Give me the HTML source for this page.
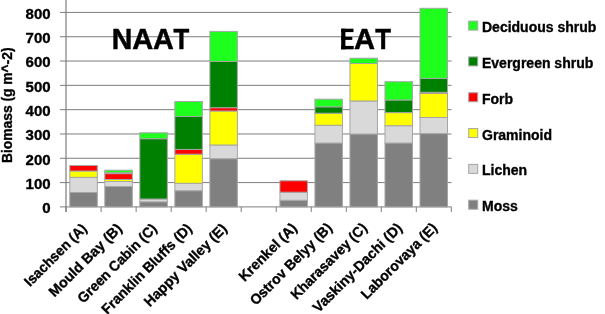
<!DOCTYPE html>
<html><head><meta charset="utf-8"><style>
html,body{margin:0;padding:0;background:#fff;width:605px;height:314px;overflow:hidden;}
svg{display:block;}
text{font-family:"Liberation Sans",sans-serif;stroke:#000;stroke-width:0.35px;}

</style></head><body>
<svg width="605" height="314" viewBox="0 0 605 314">
<defs><filter id="gs" x="-0.05" y="-0.05" width="1.1" height="1.1"><feColorMatrix type="saturate" values="0"/></filter></defs>
<line x1="60" y1="206.90" x2="451.5" y2="206.90" stroke="#7d7d7d" stroke-width="1"/>
<line x1="60" y1="182.59" x2="451.5" y2="182.59" stroke="#7d7d7d" stroke-width="1"/>
<line x1="60" y1="158.28" x2="451.5" y2="158.28" stroke="#7d7d7d" stroke-width="1"/>
<line x1="60" y1="133.97" x2="451.5" y2="133.97" stroke="#7d7d7d" stroke-width="1"/>
<line x1="60" y1="109.66" x2="451.5" y2="109.66" stroke="#7d7d7d" stroke-width="1"/>
<line x1="60" y1="85.35" x2="451.5" y2="85.35" stroke="#7d7d7d" stroke-width="1"/>
<line x1="60" y1="61.04" x2="451.5" y2="61.04" stroke="#7d7d7d" stroke-width="1"/>
<line x1="60" y1="36.73" x2="451.5" y2="36.73" stroke="#7d7d7d" stroke-width="1"/>
<line x1="60" y1="12.42" x2="451.5" y2="12.42" stroke="#7d7d7d" stroke-width="1"/>
<line x1="66" y1="0" x2="66" y2="212" stroke="#7d7d7d" stroke-width="1.2"/>
<line x1="66.10" y1="206.9" x2="66.10" y2="212" stroke="#7d7d7d" stroke-width="1"/>
<line x1="101.12" y1="206.9" x2="101.12" y2="212" stroke="#7d7d7d" stroke-width="1"/>
<line x1="136.14" y1="206.9" x2="136.14" y2="212" stroke="#7d7d7d" stroke-width="1"/>
<line x1="171.16" y1="206.9" x2="171.16" y2="212" stroke="#7d7d7d" stroke-width="1"/>
<line x1="206.18" y1="206.9" x2="206.18" y2="212" stroke="#7d7d7d" stroke-width="1"/>
<line x1="241.20" y1="206.9" x2="241.20" y2="212" stroke="#7d7d7d" stroke-width="1"/>
<line x1="276.22" y1="206.9" x2="276.22" y2="212" stroke="#7d7d7d" stroke-width="1"/>
<line x1="311.24" y1="206.9" x2="311.24" y2="212" stroke="#7d7d7d" stroke-width="1"/>
<line x1="346.26" y1="206.9" x2="346.26" y2="212" stroke="#7d7d7d" stroke-width="1"/>
<line x1="381.28" y1="206.9" x2="381.28" y2="212" stroke="#7d7d7d" stroke-width="1"/>
<line x1="416.30" y1="206.9" x2="416.30" y2="212" stroke="#7d7d7d" stroke-width="1"/>
<line x1="451.32" y1="206.9" x2="451.32" y2="212" stroke="#7d7d7d" stroke-width="1"/>
<rect x="69.80" y="192.50" width="27.5" height="14.40" fill="#808080" stroke="#a6a6a6" stroke-width="1"/>
<rect x="69.80" y="177.30" width="27.5" height="15.20" fill="#d9d9d9" stroke="#a6a6a6" stroke-width="1"/>
<rect x="69.80" y="171.00" width="27.5" height="6.30" fill="#ffff00" stroke="#a6a6a6" stroke-width="1"/>
<rect x="69.80" y="165.50" width="27.5" height="5.50" fill="#ff0000" stroke="#a6a6a6" stroke-width="1"/>
<rect x="104.82" y="186.50" width="27.5" height="20.40" fill="#808080" stroke="#a6a6a6" stroke-width="1"/>
<rect x="104.82" y="181.50" width="27.5" height="5.00" fill="#d9d9d9" stroke="#a6a6a6" stroke-width="1"/>
<rect x="104.82" y="179.50" width="27.5" height="2.00" fill="#ffff00" stroke="#a6a6a6" stroke-width="1"/>
<rect x="104.82" y="173.60" width="27.5" height="5.90" fill="#ff0000" stroke="#a6a6a6" stroke-width="1"/>
<rect x="104.82" y="172.70" width="27.5" height="0.90" fill="#008000" stroke="#a6a6a6" stroke-width="1"/>
<rect x="104.82" y="170.20" width="27.5" height="2.50" fill="#1eff1e" stroke="#a6a6a6" stroke-width="1"/>
<rect x="139.84" y="201.80" width="27.5" height="5.10" fill="#808080" stroke="#a6a6a6" stroke-width="1"/>
<rect x="139.84" y="199.00" width="27.5" height="2.80" fill="#d9d9d9" stroke="#a6a6a6" stroke-width="1"/>
<rect x="139.84" y="138.70" width="27.5" height="60.30" fill="#008000" stroke="#a6a6a6" stroke-width="1"/>
<rect x="139.84" y="132.80" width="27.5" height="5.90" fill="#1eff1e" stroke="#a6a6a6" stroke-width="1"/>
<rect x="174.86" y="190.70" width="27.5" height="16.20" fill="#808080" stroke="#a6a6a6" stroke-width="1"/>
<rect x="174.86" y="183.30" width="27.5" height="7.40" fill="#d9d9d9" stroke="#a6a6a6" stroke-width="1"/>
<rect x="174.86" y="154.20" width="27.5" height="29.10" fill="#ffff00" stroke="#a6a6a6" stroke-width="1"/>
<rect x="174.86" y="149.40" width="27.5" height="4.80" fill="#ff0000" stroke="#a6a6a6" stroke-width="1"/>
<rect x="174.86" y="116.50" width="27.5" height="32.90" fill="#008000" stroke="#a6a6a6" stroke-width="1"/>
<rect x="174.86" y="101.50" width="27.5" height="15.00" fill="#1eff1e" stroke="#a6a6a6" stroke-width="1"/>
<rect x="209.88" y="158.70" width="27.5" height="48.20" fill="#808080" stroke="#a6a6a6" stroke-width="1"/>
<rect x="209.88" y="145.00" width="27.5" height="13.70" fill="#d9d9d9" stroke="#a6a6a6" stroke-width="1"/>
<rect x="209.88" y="111.00" width="27.5" height="34.00" fill="#ffff00" stroke="#a6a6a6" stroke-width="1"/>
<rect x="209.88" y="107.70" width="27.5" height="3.30" fill="#ff0000" stroke="#a6a6a6" stroke-width="1"/>
<rect x="209.88" y="61.50" width="27.5" height="46.20" fill="#008000" stroke="#a6a6a6" stroke-width="1"/>
<rect x="209.88" y="31.40" width="27.5" height="30.10" fill="#1eff1e" stroke="#a6a6a6" stroke-width="1"/>
<rect x="279.92" y="200.30" width="27.5" height="6.60" fill="#808080" stroke="#a6a6a6" stroke-width="1"/>
<rect x="279.92" y="192.20" width="27.5" height="8.10" fill="#d9d9d9" stroke="#a6a6a6" stroke-width="1"/>
<rect x="279.92" y="180.80" width="27.5" height="11.40" fill="#ff0000" stroke="#a6a6a6" stroke-width="1"/>
<rect x="314.94" y="143.00" width="27.5" height="63.90" fill="#808080" stroke="#a6a6a6" stroke-width="1"/>
<rect x="314.94" y="125.30" width="27.5" height="17.70" fill="#d9d9d9" stroke="#a6a6a6" stroke-width="1"/>
<rect x="314.94" y="113.20" width="27.5" height="12.10" fill="#ffff00" stroke="#a6a6a6" stroke-width="1"/>
<rect x="314.94" y="106.80" width="27.5" height="6.40" fill="#008000" stroke="#a6a6a6" stroke-width="1"/>
<rect x="314.94" y="99.20" width="27.5" height="7.60" fill="#1eff1e" stroke="#a6a6a6" stroke-width="1"/>
<rect x="349.96" y="134.00" width="27.5" height="72.90" fill="#808080" stroke="#a6a6a6" stroke-width="1"/>
<rect x="349.96" y="101.00" width="27.5" height="33.00" fill="#d9d9d9" stroke="#a6a6a6" stroke-width="1"/>
<rect x="349.96" y="63.50" width="27.5" height="37.50" fill="#ffff00" stroke="#a6a6a6" stroke-width="1"/>
<rect x="349.96" y="58.20" width="27.5" height="5.30" fill="#1eff1e" stroke="#a6a6a6" stroke-width="1"/>
<rect x="384.98" y="143.00" width="27.5" height="63.90" fill="#808080" stroke="#a6a6a6" stroke-width="1"/>
<rect x="384.98" y="125.70" width="27.5" height="17.30" fill="#d9d9d9" stroke="#a6a6a6" stroke-width="1"/>
<rect x="384.98" y="112.60" width="27.5" height="13.10" fill="#ffff00" stroke="#a6a6a6" stroke-width="1"/>
<rect x="384.98" y="100.00" width="27.5" height="12.60" fill="#008000" stroke="#a6a6a6" stroke-width="1"/>
<rect x="384.98" y="81.70" width="27.5" height="18.30" fill="#1eff1e" stroke="#a6a6a6" stroke-width="1"/>
<rect x="420.00" y="133.60" width="27.5" height="73.30" fill="#808080" stroke="#a6a6a6" stroke-width="1"/>
<rect x="420.00" y="117.50" width="27.5" height="16.10" fill="#d9d9d9" stroke="#a6a6a6" stroke-width="1"/>
<rect x="420.00" y="93.30" width="27.5" height="24.20" fill="#ffff00" stroke="#a6a6a6" stroke-width="1"/>
<rect x="420.00" y="92.30" width="27.5" height="1.00" fill="#ff0000" stroke="#a6a6a6" stroke-width="1"/>
<rect x="420.00" y="78.40" width="27.5" height="13.90" fill="#008000" stroke="#a6a6a6" stroke-width="1"/>
<rect x="420.00" y="8.30" width="27.5" height="70.10" fill="#1eff1e" stroke="#a6a6a6" stroke-width="1"/>
<rect x="468.7" y="21.10" width="9" height="9" fill="#1eff1e" stroke="#a6a6a6" stroke-width="1"/>
<rect x="468.7" y="56.92" width="9" height="9" fill="#008000" stroke="#a6a6a6" stroke-width="1"/>
<rect x="468.7" y="92.74" width="9" height="9" fill="#ff0000" stroke="#a6a6a6" stroke-width="1"/>
<rect x="468.7" y="128.56" width="9" height="9" fill="#ffff00" stroke="#a6a6a6" stroke-width="1"/>
<rect x="468.7" y="164.38" width="9" height="9" fill="#d9d9d9" stroke="#a6a6a6" stroke-width="1"/>
<rect x="468.7" y="200.20" width="9" height="9" fill="#808080" stroke="#a6a6a6" stroke-width="1"/>
<g filter="url(#gs)">
<text transform="translate(111.64,49.3) scale(0.95,1)" font-family="Liberation Sans" font-weight="bold" font-size="30" fill="#000" style="stroke-width:0.5px">N</text>
<text transform="translate(132.33,49.3) scale(0.97,1)" font-family="Liberation Sans" font-weight="bold" font-size="30" fill="#000" style="stroke-width:0.5px">A</text>
<text transform="translate(152.94,49.3) scale(0.96,1)" font-family="Liberation Sans" font-weight="bold" font-size="30" fill="#000" style="stroke-width:0.5px">A</text>
<text transform="translate(173.47,49.3) scale(0.86,1)" font-family="Liberation Sans" font-weight="bold" font-size="30" fill="#000" style="stroke-width:0.5px">T</text>
<g fill="#000"><rect x="341.2" y="28.7" width="4.2" height="20.6"/><rect x="341.2" y="28.7" width="12.3" height="3.4"/><rect x="341.2" y="36.9" width="11.1" height="3.0"/><rect x="341.2" y="45.9" width="12.5" height="3.4"/></g>
<text transform="translate(354.03,49.3) scale(0.97,1)" font-family="Liberation Sans" font-weight="bold" font-size="30" fill="#000" style="stroke-width:0.5px">A</text>
<text transform="translate(375.17,49.3) scale(0.86,1)" font-family="Liberation Sans" font-weight="bold" font-size="30" fill="#000" style="stroke-width:0.5px">T</text>
<text x="50.6" y="213.20" font-family="Liberation Sans" font-weight="bold" font-size="15" text-anchor="end" fill="#000">0</text>
<text x="50.6" y="188.89" font-family="Liberation Sans" font-weight="bold" font-size="15" text-anchor="end" fill="#000">100</text>
<text x="50.6" y="164.58" font-family="Liberation Sans" font-weight="bold" font-size="15" text-anchor="end" fill="#000">200</text>
<text x="50.6" y="140.27" font-family="Liberation Sans" font-weight="bold" font-size="15" text-anchor="end" fill="#000">300</text>
<text x="50.6" y="115.96" font-family="Liberation Sans" font-weight="bold" font-size="15" text-anchor="end" fill="#000">400</text>
<text x="50.6" y="91.65" font-family="Liberation Sans" font-weight="bold" font-size="15" text-anchor="end" fill="#000">500</text>
<text x="50.6" y="67.34" font-family="Liberation Sans" font-weight="bold" font-size="15" text-anchor="end" fill="#000">600</text>
<text x="50.6" y="43.03" font-family="Liberation Sans" font-weight="bold" font-size="15" text-anchor="end" fill="#000">700</text>
<text x="50.6" y="18.72" font-family="Liberation Sans" font-weight="bold" font-size="15" text-anchor="end" fill="#000">800</text>
<text transform="translate(12,105.25) rotate(-90) scale(0.954,1)" font-family="Liberation Sans" font-weight="bold" font-size="14.5" text-anchor="middle" fill="#000">Biomass (g m^-2)</text>
<text transform="translate(87.81,229.4) rotate(-45)" font-family="Liberation Sans" font-weight="bold" font-size="14.3" text-anchor="end" textLength="81.85" lengthAdjust="spacingAndGlyphs" fill="#000">Isachsen (A)</text>
<text transform="translate(122.83,229.4) rotate(-45)" font-family="Liberation Sans" font-weight="bold" font-size="14.3" text-anchor="end" textLength="96.70" lengthAdjust="spacingAndGlyphs" fill="#000">Mould Bay (B)</text>
<text transform="translate(157.85,229.4) rotate(-45)" font-family="Liberation Sans" font-weight="bold" font-size="14.3" text-anchor="end" textLength="105.47" lengthAdjust="spacingAndGlyphs" fill="#000">Green Cabin (C)</text>
<text transform="translate(192.87,229.4) rotate(-45)" font-family="Liberation Sans" font-weight="bold" font-size="14.3" text-anchor="end" textLength="120.93" lengthAdjust="spacingAndGlyphs" fill="#000">Franklin Bluffs (D)</text>
<text transform="translate(227.89,229.4) rotate(-45)" font-family="Liberation Sans" font-weight="bold" font-size="14.3" text-anchor="end" textLength="110.53" lengthAdjust="spacingAndGlyphs" fill="#000">Happy Valley (E)</text>
<text transform="translate(297.93,228.8) rotate(-45)" font-family="Liberation Sans" font-weight="bold" font-size="14.3" text-anchor="end" textLength="75.58" lengthAdjust="spacingAndGlyphs" fill="#000">Krenkel (A)</text>
<text transform="translate(332.95,228.8) rotate(-45)" font-family="Liberation Sans" font-weight="bold" font-size="14.3" text-anchor="end" textLength="109.30" lengthAdjust="spacingAndGlyphs" fill="#000">Ostrov Belyy (B)</text>
<text transform="translate(367.97,228.8) rotate(-45)" font-family="Liberation Sans" font-weight="bold" font-size="14.3" text-anchor="end" textLength="101.14" lengthAdjust="spacingAndGlyphs" fill="#000">Kharasavey (C)</text>
<text transform="translate(402.99,228.8) rotate(-45)" font-family="Liberation Sans" font-weight="bold" font-size="14.3" text-anchor="end" textLength="119.36" lengthAdjust="spacingAndGlyphs" fill="#000">Vaskiny-Dachi (D)</text>
<text transform="translate(438.01,228.8) rotate(-45)" font-family="Liberation Sans" font-weight="bold" font-size="14.3" text-anchor="end" textLength="100.74" lengthAdjust="spacingAndGlyphs" fill="#000">Laborovaya (E)</text>
<text x="482" y="32.10" font-family="Liberation Sans" font-weight="bold" font-size="14" fill="#000">Deciduous shrub</text>
<text x="482" y="67.92" font-family="Liberation Sans" font-weight="bold" font-size="14" fill="#000">Evergreen shrub</text>
<text x="482" y="103.74" font-family="Liberation Sans" font-weight="bold" font-size="14" fill="#000">Forb</text>
<text x="482" y="139.56" font-family="Liberation Sans" font-weight="bold" font-size="14" fill="#000">Graminoid</text>
<text x="482" y="175.38" font-family="Liberation Sans" font-weight="bold" font-size="14" fill="#000">Lichen</text>
<text x="482" y="211.20" font-family="Liberation Sans" font-weight="bold" font-size="14" fill="#000">Moss</text>
</g>
</svg>
</body></html>
